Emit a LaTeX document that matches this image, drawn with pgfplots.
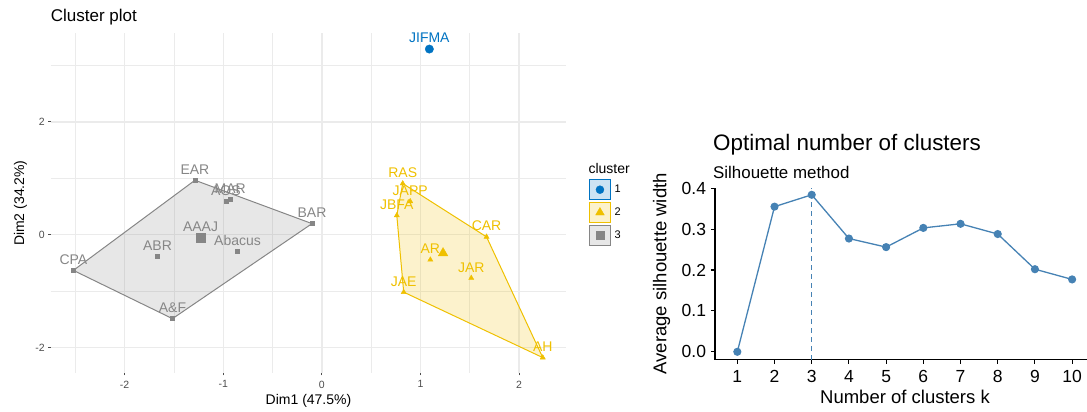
\documentclass[border=0pt]{standalone}
\usepackage{pgfplots}
\usepackage{pgfplotstable}
\pgfplotsset{compat=1.18}
\usepackage{fontspec}
\setmainfont{Liberation Sans}
\definecolor{cA}{HTML}{0073C2}
\definecolor{cB}{HTML}{EFC000}
\definecolor{cC}{HTML}{868686}
\definecolor{steel}{HTML}{4682B4}
\definecolor{gridc}{HTML}{EBEBEB}
\definecolor{tickc}{HTML}{4D4D4D}
\newcommand{\fs}[1]{\fontsize{#1}{#1}\selectfont}

\pgfplotstableread{
x y label
-1.287 0.964 EAR
-0.973 0.590 AOS
-0.930 0.620 MAR
-0.100 0.195 BAR
-1.230 -0.055 AAAJ
-0.855 -0.297 Abacus
-1.667 -0.385 ABR
-2.520 -0.634 CPA
-1.515 -1.490 A\&F
}\clusterC

\pgfplotstableread{
x y label
0.820 0.906 RAS
0.896 0.590 JAPP
0.760 0.340 JBFA
1.670 -0.040 CAR
1.100 -0.445 AR
1.515 -0.770 JAR
0.830 -1.020 JAE
2.240 -2.180 AH
}\clusterB

\pgfplotstableread{
x y label
1.090 3.290 JIFMA
}\clusterA

\pgfplotstableread{
k s
1 0.000
2 0.355
3 0.384
4 0.277
5 0.256
6 0.303
7 0.313
8 0.288
9 0.202
10 0.177
}\sil

\begin{document}
\begin{tikzpicture}
\useasboundingbox (0pt,0pt) rectangle (1087pt,412pt);
% ---------------- Cluster plot ----------------
\begin{axis}[
  at={(50.7pt,39pt)}, anchor=south west, scale only axis,
  width=515.5pt, height=339.5pt,
  xmin=-2.75, xmax=2.478, ymin=-2.4535, ymax=3.566,
  clip=false,
  axis line style={draw=none},
  xtick={-2,-1,0,1,2}, ytick={-2,0,2},
  minor xtick={-2.5,-1.5,-0.5,0.5,1.5}, minor ytick={-1,1,3},
  grid=both,
  major grid style={draw=gridc, line width=1.4pt},
  minor grid style={draw=gridc, line width=0.7pt},
  xtick pos=bottom, ytick pos=left, tick align=outside,
  major tick length=2.5pt, minor tick length=0pt,
  major tick style={draw=tickc, line width=0.9pt},
  /pgf/number format/assume math mode=true,
  ticklabel style={font=\fs{10.5}, text=tickc, inner sep=0pt},
  xticklabel shift=5pt, yticklabel shift=3.2pt,
  legend style={at={(1.0448,0.5705)}, anchor=north west, draw=none, fill=none,
    inner sep=0pt, outer sep=0pt, row sep=2pt, column sep=4pt, font=\fs{11},
    nodes={inner sep=0pt, outer sep=0pt}},
  legend cell align=left,
  nodes near coords align={anchor=base},
]
\addplot[forget plot, draw=cC, line width=1pt, fill=cC, fill opacity=0.2]
  coordinates {(-2.520,-0.634) (-1.287,0.964) (-0.100,0.195) (-1.515,-1.490)} -- cycle;
\addplot[forget plot, draw=cB, line width=1pt, fill=cB, fill opacity=0.2]
  coordinates {(0.820,0.906) (1.670,-0.040) (2.240,-2.180) (0.830,-1.020) (0.760,0.340)} -- cycle;

\addplot[forget plot, only marks, mark=square*, mark size=2pt, color=cC,
  nodes near coords, point meta=explicit symbolic,
  nodes near coords style={anchor=base, yshift=6pt, font=\fs{14}, text=cC, inner sep=0pt}]
  table[meta=label] {\clusterC};
\addplot[forget plot, only marks, mark=triangle*, mark size=3pt, color=cB,
  nodes near coords, point meta=explicit symbolic,
  nodes near coords style={anchor=base, yshift=6pt, font=\fs{14}, text=cB, inner sep=0pt}]
  table[meta=label] {\clusterB};
\addplot[forget plot, only marks, mark=*, mark size=4.2pt, color=cA,
  nodes near coords, point meta=explicit symbolic,
  nodes near coords style={anchor=base, yshift=7pt, font=\fs{14}, text=cA, inner sep=0pt}]
  table[meta=label] {\clusterA};
% centroids
\addplot[forget plot, only marks, mark=square*, mark size=4.2pt, color=cC] coordinates {(-1.230,-0.055)};
\addplot[forget plot, only marks, mark=triangle*, mark size=5.5pt, color=cB] coordinates {(1.229,-0.327)};

\addlegendimage{legend image code/.code={
  \draw[cA, line width=0.8pt, fill=cA!20] (0pt,-10pt) rectangle (20.5pt,10pt);
  \fill[cA] (10.25pt,0pt) circle (4pt);}}
\addlegendentry{1}
\addlegendimage{legend image code/.code={
  \draw[cB, line width=0.8pt, fill=cB!20] (0pt,-10pt) rectangle (20.5pt,10pt);
  \fill[cB] (10.25pt,5pt) -- (14.6pt,-2.5pt) -- (5.9pt,-2.5pt) -- cycle;}}
\addlegendentry{2}
\addlegendimage{legend image code/.code={
  \draw[cC, line width=0.8pt, fill=cC!20] (0pt,-10pt) rectangle (20.5pt,10pt);
  \fill[cC] (6.5pt,-3.75pt) rectangle (14pt,3.75pt);}}
\addlegendentry{3}
\end{axis}

% ---------------- Silhouette plot ----------------
\begin{axis}[
  at={(715pt,52.4pt)}, anchor=south west, scale only axis,
  width=372pt, height=171.8pt,
  xmin=0.4, xmax=10.4, ymin=-0.0191, ymax=0.4011,
  axis x line*=bottom, axis y line*=left,
  axis line style={line width=1.1pt, black, -},
  xtick={1,...,10}, ytick={0,0.1,0.2,0.3,0.4},
  tick align=outside, major tick length=4.2pt,
  major tick style={black, line width=1.1pt},
  /pgf/number format/assume math mode=true,
  ticklabel style={font=\fs{17.5}, inner sep=0pt},
  yticklabel style={/pgf/number format/.cd, fixed, fixed zerofill, precision=1},
  xticklabel shift=6.2pt, yticklabel shift=4.6pt,
  clip=false,
]
\addplot[draw=steel, solid, dash pattern=on 5pt off 4pt, line width=1.4pt] coordinates {(3,-0.0191) (3,0.4011)};
\addplot[draw=steel, line width=1.3pt, mark=*, mark size=3.4pt, mark options={solid, fill=steel, draw=steel}] table[x=k,y=s] {\sil};
\end{axis}

% ---------------- texts ----------------
\node[anchor=base west, font=\fs{17}, inner sep=0pt] at (50.7pt,390.5pt) {Cluster plot};
\node[anchor=base, font=\fs{14}, inner sep=0pt] at (308.5pt,7.5pt) {Dim1 (47.5\%)};
\node[rotate=90, font=\fs{14}, inner sep=0pt] at (20.5pt,208.8pt) {Dim2 (34.2\%)};
\node[anchor=base west, font=\fs{14}, inner sep=0pt] at (588.3pt,238.7pt) {cluster};

\node[anchor=base west, font=\fs{22.4}, inner sep=0pt] at (713pt,261pt) {Optimal number of clusters};
\node[anchor=base west, font=\fs{16.9}, inner sep=0pt] at (713pt,233.2pt) {Silhouette method};
\node[anchor=base, font=\fs{18.5}, inner sep=0pt] at (905pt,8.5pt) {Number of clusters k};
\node[rotate=90, font=\fs{18.5}, inner sep=0pt] at (661.5pt,138.2pt) {Average silhouette width};
\end{tikzpicture}
\end{document}
